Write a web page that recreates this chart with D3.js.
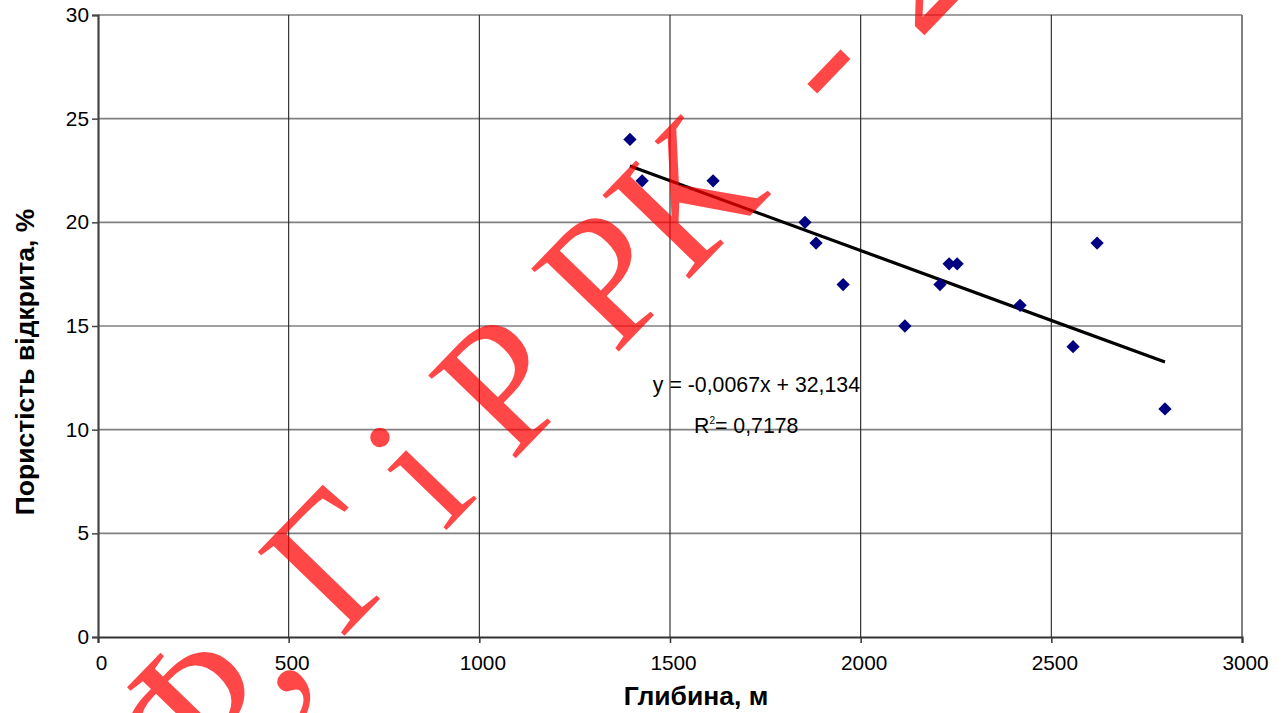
<!DOCTYPE html>
<html>
<head>
<meta charset="utf-8">
<script src="https://cdn.jsdelivr.net/npm/d3@7"></script>
<style>
  html, body { margin: 0; padding: 0; background: #fff; }
  svg { display: block; }
</style>
</head>
<body>
<svg id="chart" width="1286" height="713"></svg>
<script>
// ---- data ----
const depth = [1395, 1427, 1613, 1854, 1883, 1954, 2116, 2208, 2232, 2253, 2418, 2557, 2620, 2798];
const porosity = [24, 22, 22, 20, 19, 17, 15, 17, 18, 18, 16, 14, 19, 11];
const xTicks = [0, 500, 1000, 1500, 2000, 2500, 3000];
const yTicks = [0, 5, 10, 15, 20, 25, 30];
const xTitle = "Глибина, м";
const yTitle = "Пористість відкрита, %";
const eqText = "y = -0,0067x + 32,134";
const r2Value = "= 0,7178";
const watermarkParts = ["Ф, Г ", "і Р Р", "К ", "- 2"];
const watermarkSpacing = [-2, 0, 26, 4];

const W = 1286, H = 713;
const svg = d3.select("#chart");
svg.append("rect").attr("width", W).attr("height", H).attr("fill", "#fff");

const x = d3.scaleLinear().domain([0, 3000]).range([98, 1242]);
const y = d3.scaleLinear().domain([0, 30]).range([637, 15]);

// grid
svg.append("g").selectAll("line").data(yTicks.filter(d => d > 0)).join("line")
  .attr("x1", x(0)).attr("x2", x(3000))
  .attr("y1", d => y(d)).attr("y2", d => y(d))
  .attr("stroke", "#808080").attr("stroke-width", 1.6);
svg.append("g").selectAll("line").data(xTicks.filter(d => d > 0)).join("line")
  .attr("x1", d => x(d)).attr("x2", d => x(d))
  .attr("y1", y(0)).attr("y2", y(30))
  .attr("stroke", d => d === 3000 ? "#808080" : "#222").attr("stroke-width", d => d === 3000 ? 2 : 1.1);

// axes
const xAxis = d3.axisBottom(x).tickValues(xTicks).tickSize(6).tickPadding(12).tickFormat(d3.format("d"));
const gx = svg.append("g").attr("transform", `translate(0,${y(0)})`).call(xAxis);
gx.select(".domain").attr("stroke", "#333").attr("stroke-width", 2);
gx.selectAll(".tick line").attr("stroke", "#333").attr("stroke-width", 1.5);
gx.selectAll(".tick text").attr("font-family", "Liberation Sans, Arial, sans-serif").attr("font-size", 20.8).attr("fill", "#000").attr("dx", 3);

const yAxis = d3.axisLeft(y).tickValues(yTicks).tickSize(6).tickPadding(3).tickFormat(d3.format("d"));
const gy = svg.append("g").attr("transform", `translate(${x(0)},0)`).call(yAxis);
gy.select(".domain").attr("stroke", "#444").attr("stroke-width", 2.2);
gy.selectAll(".tick line").attr("stroke", "#444").attr("stroke-width", 1.5);
gy.selectAll(".tick text").attr("font-family", "Liberation Sans, Arial, sans-serif").attr("font-size", 20.8).attr("fill", "#000");

// trendline (least squares from data)
const n = depth.length;
const mx = d3.mean(depth), my = d3.mean(porosity);
let sxy = 0, sxx = 0;
for (let i = 0; i < n; i++) { sxy += (depth[i] - mx) * (porosity[i] - my); sxx += (depth[i] - mx) ** 2; }
const slope = sxy / sxx, icpt = my - slope * mx;
const ext = d3.extent(depth);
svg.append("path")
  .attr("d", d3.line().x(d => x(d)).y(d => y(slope * d + icpt))(ext))
  .attr("stroke", "#000").attr("stroke-width", 3.2).attr("fill", "none");

// points
const sym = d3.symbol().type(d3.symbolSquare).size(88);
svg.append("g").selectAll("path").data(depth.map((d, i) => [d, porosity[i]])).join("path")
  .attr("d", sym)
  .attr("transform", d => `translate(${x(d[0])},${y(d[1])}) rotate(45)`)
  .attr("fill", "#000080");

// equation labels
svg.append("text").attr("x", x(1455)).attr("y", y(11.83))
  .attr("font-family", "Liberation Sans, Arial, sans-serif").attr("font-size", 21.3).text(eqText);
const r2 = svg.append("text").attr("x", x(1563)).attr("y", y(9.85))
  .attr("font-family", "Liberation Sans, Arial, sans-serif").attr("font-size", 21.3);
r2.append("tspan").text("R");
r2.append("tspan").attr("font-size", 10).attr("dy", -9).text("2");
r2.append("tspan").attr("dy", 9).text(r2Value);

// axis titles
svg.append("text").attr("x", 696).attr("y", 705).attr("text-anchor", "middle")
  .attr("font-family", "Liberation Sans, Arial, sans-serif").attr("font-weight", "bold").attr("font-size", 26.5)
  .text(xTitle);
svg.append("text").attr("transform", "translate(34,362) rotate(-90)").attr("text-anchor", "middle")
  .attr("font-family", "Liberation Sans, Arial, sans-serif").attr("font-weight", "bold").attr("font-size", 26.5)
  .text(yTitle);

// watermark
const wm = svg.append("text")
  .attr("transform", "translate(180,806) rotate(-46)")
  .attr("font-family", "Liberation Serif, Times New Roman, serif").attr("font-size", 184)
  .attr("fill", "#ff0000").attr("fill-opacity", 0.72)
  .attr("xml:space", "preserve").style("white-space", "pre");
watermarkParts.forEach((t, i) => wm.append("tspan").attr("letter-spacing", watermarkSpacing[i]).text(t));
</script>
</body>
</html>
